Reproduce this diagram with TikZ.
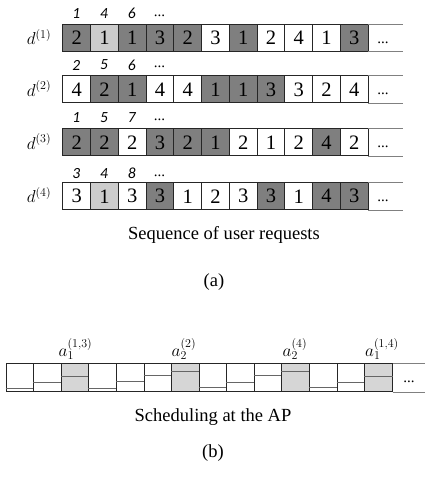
\documentclass[tikz,border=0pt]{standalone}
\usepackage{fontspec}
\setmainfont{Liberation Serif}
\newfontfamily\numfont{Carlito}
\definecolor{dk}{HTML}{7F7F7F}
\definecolor{lt}{HTML}{CCCCCC}
\definecolor{hatch}{HTML}{D6D6D6}
\definecolor{edge}{HTML}{262626}
\begin{document}
\begin{tikzpicture}[x=1pt,y=-1pt,
  cell/.style={draw=edge, line width=0.9pt, minimum width=27.75pt, minimum height=27pt,
    inner sep=0pt, anchor=north west, font=\fontsize{20.5}{20.5}\selectfont},
  bcell/.style={draw=edge, line width=0.9pt, minimum width=27.57pt, minimum height=27.7pt,
    inner sep=0pt, anchor=north west},
  extline/.style={draw=black!50, line width=0.8pt},
  lvl/.style={draw=black!60, line width=0.8pt},
  idx/.style={font=\numfont\itshape\fontsize{15.5}{15.5}\selectfont, inner sep=0pt},
  dotsnode/.style={font=\fontsize{15}{15}\selectfont, inner sep=0pt},
  dlab/.style={font=\fontsize{17.5}{17.5}\selectfont, inner sep=0pt},
  alab/.style={font=\fontsize{18}{18}\selectfont, inner sep=0pt, anchor=south west},
  captext/.style={font=\fontsize{18.5}{20}\selectfont, inner sep=0pt}]
\useasboundingbox (0,0) rectangle (425,489);

\coordinate (aend) at (402.5,0);
\coordinate (bend) at (425,0);

% ---------- part (a) ----------
\foreach \v/\f [count=\i] in {2/dk,1/lt,1/dk,3/dk,2/dk,3/white,1/dk,2/white,4/white,1/white,3/dk}
  \node[cell,fill=\f] (r1c\i) at ({62.3+(\i-1)*27.75},24) {\v};
\foreach \v/\f [count=\i] in {4/white,2/dk,1/dk,4/white,4/white,1/dk,1/dk,3/dk,3/white,2/white,4/white}
  \node[cell,fill=\f] (r2c\i) at ({62.3+(\i-1)*27.75},75.5) {\v};
\foreach \v/\f [count=\i] in {2/dk,2/dk,2/white,3/dk,2/dk,1/dk,2/white,1/white,2/white,4/dk,2/white}
  \node[cell,fill=\f] (r3c\i) at ({62.3+(\i-1)*27.75},128.5) {\v};
\foreach \v/\f [count=\i] in {3/white,1/lt,3/white,3/dk,1/white,2/white,3/white,3/dk,1/white,4/dk,3/dk}
  \node[cell,fill=\f] (r4c\i) at ({62.3+(\i-1)*27.75},182.3) {\v};

\foreach \r in {1,2,3,4}{
  \draw[extline] (r\r c11.north east) -- (r\r c11.north east -| aend);
  \draw[extline] (r\r c11.south east) -- (r\r c11.south east -| aend);
}

% row labels
\node[dlab] (d1) at (39,37) {$d^{(1)}$};
\node[dlab] (d2) at (39,88.5) {$d^{(2)}$};
\node[dlab] (d3) at (39,141.5) {$d^{(3)}$};
\node[dlab] (d4) at (39,195.3) {$d^{(4)}$};

% continuation dots
\node[dotsnode] (e1) at (383,42.5) {...};
\node[dotsnode] (e2) at (383,94) {...};
\node[dotsnode] (e3) at (383,147) {...};
\node[dotsnode] (e4) at (383,200.8) {...};

% index numbers
\foreach \a/\b/\c [count=\r] in {1/4/6,2/5/6,1/5/7,3/4/8}{
  \pgfmathsetmacro{\yy}{{13.5,65,118,173.5}[\r-1]}
  \node[idx] (i\r a) at (76.2,\yy) {\a};
  \node[idx] (i\r b) at (104,\yy) {\b};
  \node[idx] (i\r c) at (131.7,\yy) {\c};
  \node[dotsnode] (i\r d) at (159.5,\yy+2) {...};
}

\node[captext] (capa) at (224,235) {Sequence of user requests};
\node[captext] (pa) at (214,282) {(a)};

% ---------- part (b) ----------
\foreach \h/\f [count=\i] in {4/white,10/white,15.5/hatch,4/white,10.5/white,16.5/white,21/hatch,4.5/white,10/white,16.5/white,21/hatch,4.5/white,10/white,15.5/hatch}{
  \node[bcell,fill=\f] (b\i) at ({5.7+(\i-1)*27.57},363.3) {};
  \draw[lvl] ([yshift=\h pt]b\i.south west) -- ([yshift=\h pt]b\i.south east);
}
\draw[extline] (b14.north east) -- (b14.north east -| bend);
\draw[extline] (b14.south east) -- (b14.south east -| bend);
\node[dotsnode] (eb) at (409,381.5) {...};

\node[alab] (a1) at (58.5,360) {$a_1^{(1,3)}$};
\node[alab] (a2) at (171.5,360) {$a_2^{(2)}$};
\node[alab] (a3) at (282.5,360) {$a_2^{(4)}$};
\node[alab] (a4) at (365,360) {$a_1^{(1,4)}$};

\node[captext] (capb) at (213,417) {Scheduling at the AP};
\node[captext] (pb) at (213,453) {(b)};
\end{tikzpicture}
\end{document}
